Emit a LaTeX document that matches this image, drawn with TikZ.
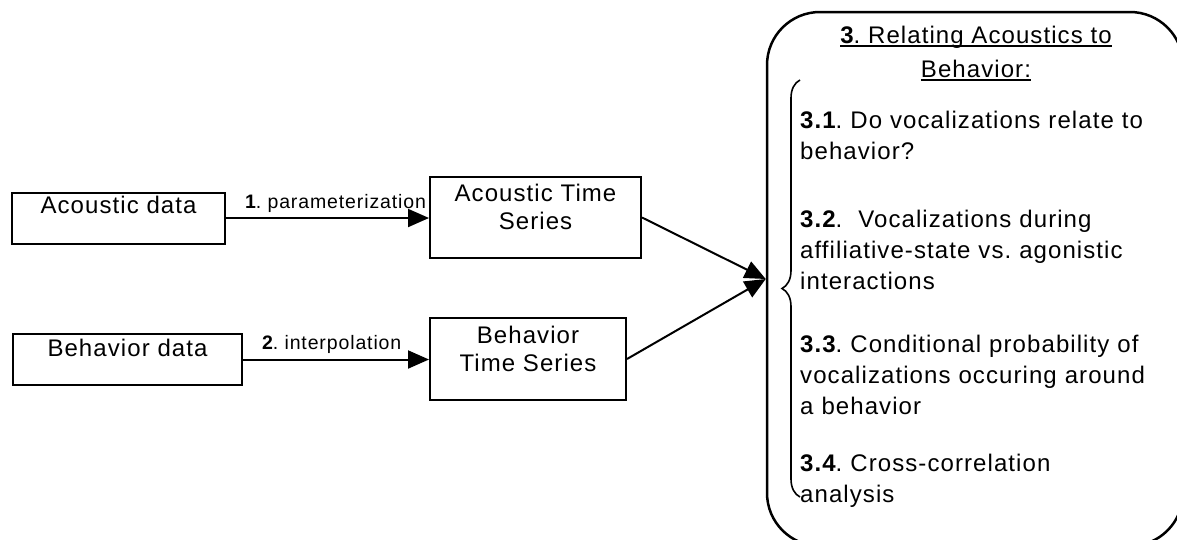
\documentclass[tikz,border=0pt]{standalone}
\usepackage{fontspec}
\setmainfont{Liberation Sans}[LetterSpace=4.5]
\usetikzlibrary{arrows.meta,decorations.pathreplacing}
\frenchspacing

\begin{document}
\begin{tikzpicture}[x=1pt,y=-1pt,
    box/.style={draw,line width=2pt,inner sep=0pt},
    txt/.style={inner sep=0pt,align=center,font=\fontsize{24}{28}\selectfont},
    item/.style={inner sep=0pt,anchor=north west,text width=380pt,align=left,font=\fontsize{24}{31}\selectfont},
    lbl/.style={inner sep=0pt,anchor=base west,at start,xshift=18pt,yshift=10pt,font=\fontsize{19.5}{22}\selectfont},
    flow/.style={-{Triangle[length=21pt,width=18pt]},line width=2pt}]
    \useasboundingbox (0,0) rectangle (1177,539);
    % input boxes
    \node [box,minimum width=213pt,minimum height=51pt] (acd) at (118.5,218) {};
    \node [txt] (acdtxt) at (118.5,205) {Acoustic data};
    \node [box,minimum width=229pt,minimum height=51pt] (bhd) at (127.5,359.5) {};
    \node [txt] (bhdtxt) at (127.5,348) {Behavior data};
    % time series boxes
    \node [box,minimum width=211pt,minimum height=81pt] (ats) at (535.5,217.5) {};
    \node [txt] (atstxt) at (535.5,207) {Acoustic Time\\Series};
    \node [box,minimum width=196pt,minimum height=82pt] (bts) at (528,359) {};
    \node [txt] (btstxt) at (528,349) {Behavior\\Time Series};
    % relating box
    \node [draw,line width=2.5pt,rounded corners=53pt,minimum width=416pt,minimum height=534pt] (rel) at (975,279) {};
    \node [inner sep=0pt,anchor=base,font=\fontsize{24}{31}\selectfont] (ttl1) at (976,43) {\textbf{3}. Relating Acoustics to};
    \node [inner sep=0pt,anchor=base,font=\fontsize{24}{31}\selectfont] (ttl2) at (976,77) {Behavior:};
    \draw [line width=1.4pt] ([yshift=-3pt]ttl1.base west) -- ([yshift=-3pt]ttl1.base east);
    \draw [line width=1.4pt] ([yshift=-3pt]ttl2.base west) -- ([yshift=-3pt]ttl2.base east);
    \draw [line width=1.6pt,decorate,decoration={brace,amplitude=18pt}] (800,497) -- (800,80);
    \node [item] (t31) at (800,110.8) {\textbf{3.1}. Do vocalizations relate to\\behavior?};
    \node [item] (t32) at (800,209.8) {\textbf{3.2}.\ \ Vocalizations during\\affiliative-state vs. agonistic\\interactions};
    \node [item] (t33) at (800,334.8) {\textbf{3.3}. Conditional probability of\\vocalizations occuring around\\a behavior};
    \node [item] (t34) at (800,453.8) {\textbf{3.4}. Cross-correlation\\analysis};
    % arrows
    \draw [flow] (acd.east) -- node [lbl] (lab1) {\textbf{1}. parameterization} (acd.east -| ats.west);
    \draw [flow] (bhd.east) -- node [lbl] (lab2) {\textbf{2}. interpolation} (bhd.east -| bts.west);
    \draw [flow] (ats.east) -- (rel.west);
    \draw [flow] (bts.east) -- (rel.west);
\end{tikzpicture}
\end{document}
